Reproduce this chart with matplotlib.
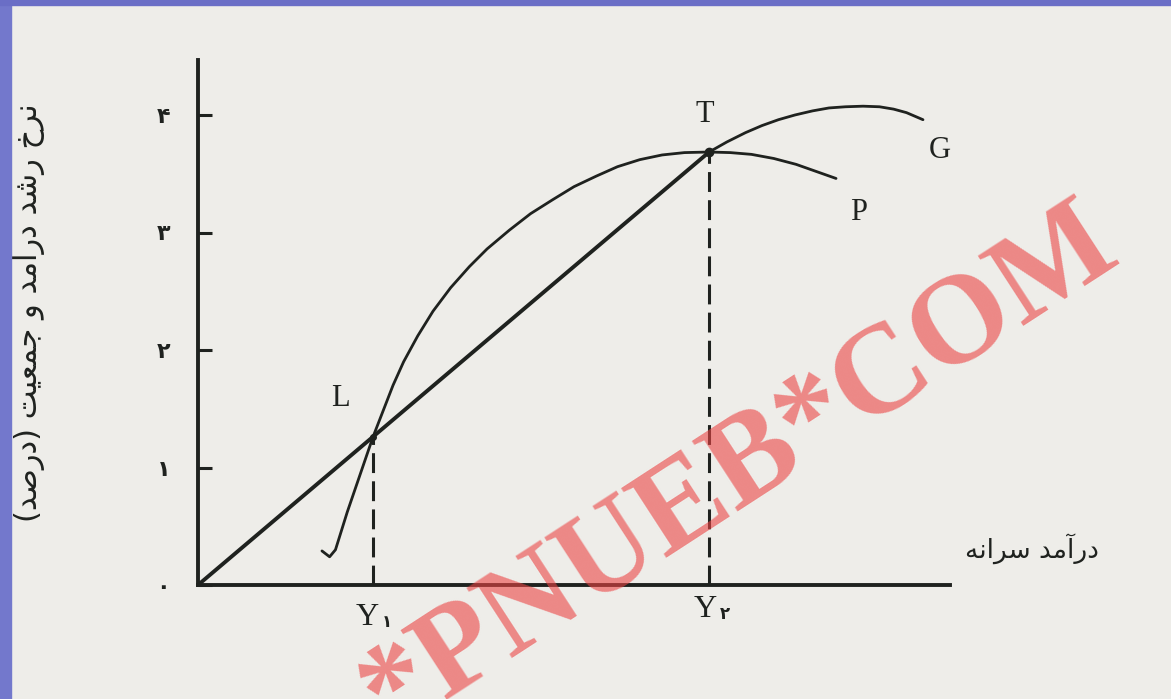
from matplotlib import pyplot as plt
from matplotlib.patches import Rectangle

# Persian text is written with shaped presentation forms (logical order),
# then flipped to visual order because matplotlib does no bidi / joining
def visual(s):
    return s[::-1].translate({ord('('): ')', ord(')'): '('})

x_label = visual('\ufea9\ufead\ufe81\ufee3\ufeaa \ufeb3\ufeae\ufe8d\ufee7\ufeea')  # درآمد سرانه
y_label = visual('\ufee7\ufeae\ufea5 \ufead\ufeb7\ufeaa \ufea9\ufead\ufe81\ufee3\ufeaa \ufeed '
                 '\ufe9f\ufee4\ufecc\ufef4\ufe96 (\ufea9\ufead\ufebb\ufeaa)')  # نرخ رشد درآمد و جمعیت (درصد)

y_ticks = [0, 1, 2, 3, 4]
y_tick_labels = ['\u06f0', '\u06f1', '\u06f2', '\u06f3', '\u06f4']

# income growth: straight line from origin to T
T = (4.35, 3.685)
L = (1.49, 1.262)
line_x = [0, T[0]]
line_y = [0, T[1]]

# P curve (population growth)
p_x = [1.055, 1.12, 1.17, 1.27, 1.49, 1.66, 1.75, 1.87, 2.00, 2.15, 2.31, 2.46,
       2.65, 2.83, 3.02, 3.20, 3.39, 3.57, 3.76, 3.95, 4.14, 4.35, 4.53, 4.71,
       4.90, 5.09, 5.26, 5.43]
p_y = [0.29, 0.24, 0.30, 0.62, 1.262, 1.70, 1.90, 2.12, 2.33, 2.53, 2.71, 2.86,
       3.02, 3.16, 3.28, 3.39, 3.48, 3.56, 3.62, 3.66, 3.68, 3.685, 3.68, 3.665,
       3.63, 3.58, 3.52, 3.46]

# G curve
g_x = [4.35, 4.50, 4.66, 4.80, 4.94, 5.08, 5.23, 5.37, 5.51, 5.66, 5.80, 5.92,
       6.03, 6.17]
g_y = [3.685, 3.77, 3.85, 3.91, 3.96, 4.00, 4.035, 4.06, 4.07, 4.075, 4.07, 4.05,
       4.02, 3.96]

paper = '#eeede9'
ink = '#1f221f'

fig = plt.figure(figsize=(11.71, 6.99), dpi=100, facecolor=paper)
ax = fig.add_axes([0, 0, 1, 1])
ax.set_facecolor(paper)

# origin at pixel (198, 585), 117.5 px per unit on both axes
ax.set_xlim(-198 / 117.5, (1171 - 198) / 117.5)
ax.set_ylim(-(699 - 585) / 117.5, 585 / 117.5)

ax.plot(line_x, line_y, color=ink, lw=2.8, solid_capstyle='butt')
ax.plot(p_x, p_y, color=ink, lw=2.0, solid_joinstyle='round', solid_capstyle='round')
ax.plot(g_x, g_y, color=ink, lw=2.0, solid_joinstyle='round', solid_capstyle='round')
ax.plot([T[0]], [T[1]], 'o', color=ink, ms=6)
ax.plot([L[0]], [L[1]], 'o', color=ink, ms=4)

ax.plot([L[0], L[0]], [0, L[1]], color=ink, lw=2.2, linestyle=(0, (6.5, 2.7)))
ax.plot([T[0], T[0]], [0, T[1]], color=ink, lw=2.2, linestyle=(0, (6.5, 2.7)))

# axes as spines through the origin
for side in ['top', 'right']:
    ax.spines[side].set_visible(False)
ax.spines['left'].set_position(('data', 0))
ax.spines['bottom'].set_position(('data', 0))
ax.spines['left'].set_bounds(0, 4.47)
ax.spines['bottom'].set_bounds(0, 6.40)
for side in ['left', 'bottom']:
    ax.spines[side].set_linewidth(2.8)
    ax.spines[side].set_color(ink)

ax.set_xticks([])
ax.set_yticks(y_ticks)
ax.set_yticklabels(y_tick_labels, family=['DejaVu Sans'], fontsize=16,
                   fontweight='bold', color=ink)
ax.tick_params(axis='y', direction='in', length=10, width=2.2, color=ink, pad=20)

serif = ['Liberation Serif', 'DejaVu Sans']
ax.text(1.21, 1.59, 'L', family=serif, fontsize=22, color=ink, ha='center', va='center')
ax.text(4.31, 4.00, 'T', family=serif, fontsize=22, color=ink, ha='center', va='center')
ax.text(6.31, 3.70, 'G', family=serif, fontsize=22, color=ink, ha='center', va='center')
ax.text(5.62, 3.17, 'P', family=serif, fontsize=22, color=ink, ha='center', va='center')

# Y1, Y2 with a small Persian digit after the Y
for xp, yp, digit in [(1.44, -0.34, '\u06f1'), (4.32, -0.27, '\u06f2')]:
    ax.text(xp, yp, 'Y', family=serif, fontsize=23, color=ink, ha='center', va='baseline')
    ax.text(xp + 0.12, yp - 0.02, digit, family=['DejaVu Sans'], fontsize=12,
            fontweight='bold', color=ink, ha='left', va='baseline')

ax.text(6.53, 0.31, x_label, family=['DejaVu Sans'], fontsize=19, color=ink,
        ha='left', va='center')
fig.text(0.023, 0.552, y_label, family=['DejaVu Sans'], fontsize=22, color=ink,
         rotation=90, ha='center', va='center')

# slide frame: blue strips on the left and top
fig.patches.append(Rectangle((0, 0), 11 / 1171, 1, transform=fig.transFigure,
                             color='#7378cc', zorder=5))
fig.patches.append(Rectangle((0, 1 - 5 / 699), 1, 5 / 699, transform=fig.transFigure,
                             color='#6a6ec6', zorder=5))

# watermark
fig.text(0.632, 0.328, '*PNUEB*COM', family=['Liberation Serif'], weight='bold',
         fontsize=92, color='#ec4444', alpha=0.6, rotation=33,
         rotation_mode='anchor', ha='center', va='center', zorder=10)

plt.savefig('out.png', dpi=100, facecolor=paper)
